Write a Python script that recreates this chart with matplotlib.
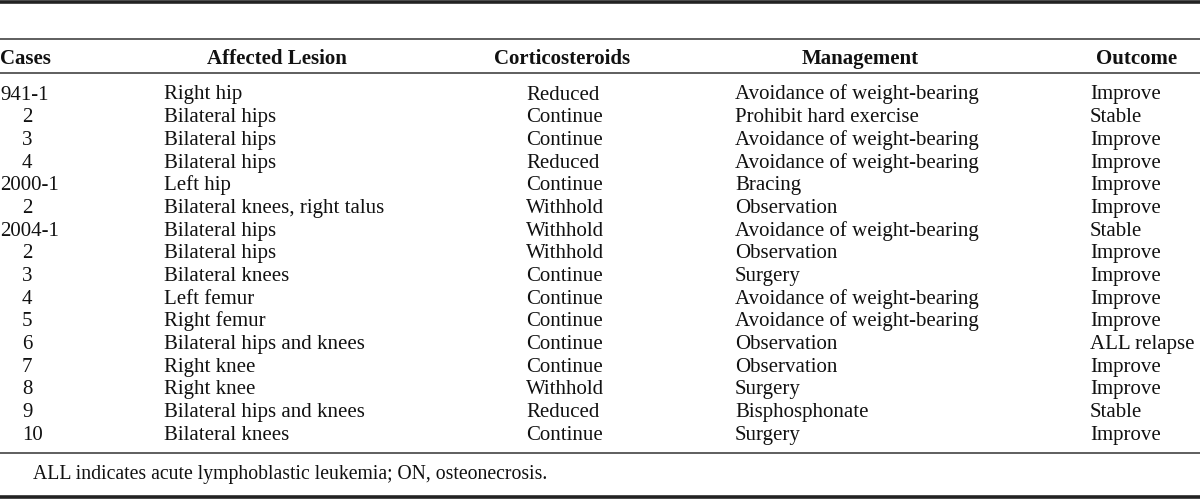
import matplotlib.pyplot as plt

cases = ["941-1", "2", "3", "4", "2000-1", "2", "2004-1", "2", "3", "4",
         "5", "6", "7", "8", "9", "10"]
lesions = ["Right hip", "Bilateral hips", "Bilateral hips", "Bilateral hips",
           "Left hip", "Bilateral knees, right talus", "Bilateral hips",
           "Bilateral hips", "Bilateral knees", "Left femur", "Right femur",
           "Bilateral hips and knees", "Right knee", "Right knee",
           "Bilateral hips and knees", "Bilateral knees"]
steroids = ["Reduced", "Continue", "Continue", "Reduced", "Continue",
            "Withhold", "Withhold", "Withhold", "Continue", "Continue",
            "Continue", "Continue", "Continue", "Withhold", "Reduced",
            "Continue"]
management = ["Avoidance of weight-bearing", "Prohibit hard exercise",
              "Avoidance of weight-bearing", "Avoidance of weight-bearing",
              "Bracing", "Observation", "Avoidance of weight-bearing",
              "Observation", "Surgery", "Avoidance of weight-bearing",
              "Avoidance of weight-bearing", "Observation", "Observation",
              "Surgery", "Bisphosphonate", "Surgery"]
outcome = ["Improve", "Stable", "Improve", "Improve", "Improve", "Improve",
           "Stable", "Improve", "Improve", "Improve", "Improve", "ALL relapse",
           "Improve", "Improve", "Stable", "Improve"]
headers = ["Cases", "Affected Lesion", "Corticosteroids", "Management", "Outcome"]
footnote = "ALL indicates acute lymphoblastic leukemia; ON, osteonecrosis."

plt.rcParams['font.family'] = ['Liberation Serif', 'DejaVu Serif']
fs = 15
ink = '#111111'

fig = plt.figure(figsize=(12, 5), dpi=100)
ax = fig.add_axes([0, 0, 1, 1])
ax.set_xlim(0, 1200)
ax.set_ylim(500, 0)
ax.axis('off')

# rules
ax.axhline(1.5, color='#222222', lw=2.6)
ax.axhline(38.5, color='#333333', lw=1.1)
ax.axhline(72.5, color='#333333', lw=1.1)
ax.axhline(452.5, color='#333333', lw=1.1)
ax.axhline(497, color='#222222', lw=2.6)

# header
hdr_x = [0, 277, 562, 860, 1137]
hdr_ha = ['left', 'center', 'center', 'center', 'center']
for h, x, ha in zip(headers, hdr_x, hdr_ha):
    ax.text(x, 64, h, ha=ha, va='baseline', fontsize=fs, fontweight='bold',
            color=ink)

y0 = 99.5
dy = 22.67
for i in range(len(cases)):
    y = y0 + i * dy
    cx = 0 if '-' in cases[i] else 22
    ax.text(cx, y, cases[i], ha='left', va='baseline', fontsize=fs, color=ink)
    ax.text(164, y, lesions[i], ha='left', va='baseline', fontsize=fs, color=ink)
    ax.text(526, y, steroids[i], ha='left', va='baseline', fontsize=fs, color=ink)
    ax.text(735, y, management[i], ha='left', va='baseline', fontsize=fs, color=ink)
    ax.text(1090, y, outcome[i], ha='left', va='baseline', fontsize=fs, color=ink)

ax.text(33, 479, footnote, ha='left', va='baseline', fontsize=14.2, color=ink)

fig.savefig('out.png', dpi=100)
